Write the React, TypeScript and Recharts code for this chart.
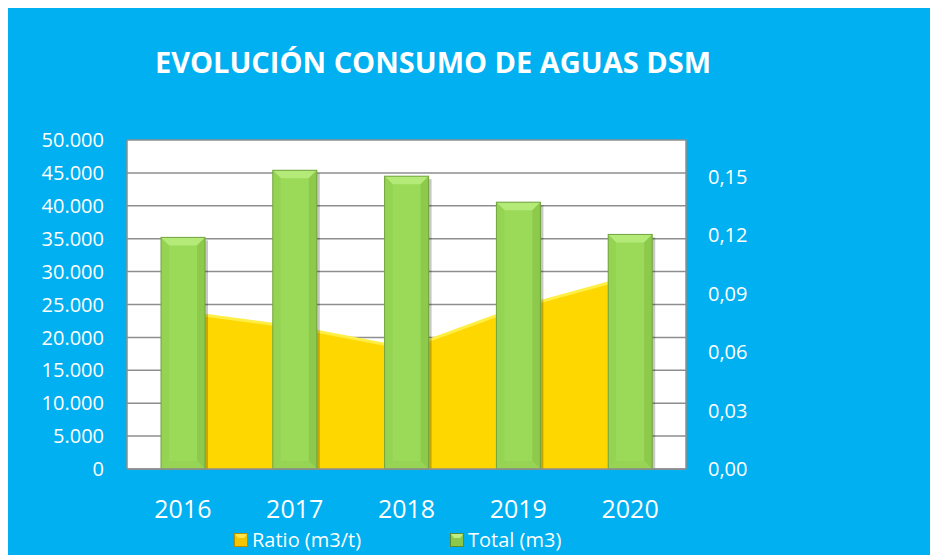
import React from 'react';
import { ComposedChart, Bar, Area, XAxis, YAxis, CartesianGrid, Legend } from 'recharts';

const YEARS = ['2016', '2017', '2018', '2019', '2020'];
const TOTAL_M3 = [35200, 45400, 44500, 40550, 35650];
const RATIO_M3_T = [0.0805, 0.0729, 0.0619, 0.0829, 0.0986];
const LEFT_TICKS = [0, 5000, 10000, 15000, 20000, 25000, 30000, 35000, 40000, 45000, 50000];
const RIGHT_TICKS = [0, 0.03, 0.06, 0.09, 0.12, 0.15];
const SERIES_NAMES = ['Ratio (m3/t)', 'Total (m3)'];

const data = YEARS.map((year, i) => ({ year, total: TOTAL_M3[i], ratio: RATIO_M3_T[i] }));

const BG = '#00B0F0';
const FONT = '"Open Sans", "Noto Sans", sans-serif';

const fmtThousands = (v: number) => (v === 0 ? '0' : v.toLocaleString('de-DE'));
const fmtRatio = (v: number) => v.toFixed(2).replace('.', ',');

// green column with a bevelled look, like the Excel preset
const BevelBar = (props: any) => {
  const { x, y, width: w, height: h } = props;
  if (!h || h <= 0) return null;
  const b = Math.min(8, w / 4, h / 2);
  return (
    <g>
      <rect x={x + 3} y={y + 3} width={w} height={h - 3} fill="rgba(0,0,0,0.22)" />
      <rect x={x} y={y} width={w} height={h} fill="#9BDA58" />
      <polygon points={`${x},${y} ${x + w},${y} ${x + w - b},${y + b} ${x + b},${y + b}`} fill="#B3EA78" />
      <polygon points={`${x},${y} ${x + b},${y + b} ${x + b},${y + h - b} ${x},${y + h}`} fill="#95D353" />
      <polygon points={`${x + w},${y} ${x + w},${y + h} ${x + w - b},${y + h - b} ${x + w - b},${y + b}`} fill="#8DC94B" />
      <polygon points={`${x},${y + h} ${x + b},${y + h - b} ${x + w - b},${y + h - b} ${x + w},${y + h}`} fill="#97D455" />
      <rect x={x} y={y} width={w} height={h} fill="none" stroke="#73A33F" strokeWidth={1} />
    </g>
  );
};

const LegendIcon = ({ face, light, dark }: { face: string; light: string; dark: string }) => (
  <svg width={14} height={14} style={{ display: 'block' }}>
    <rect x={0} y={0} width={14} height={14} fill={face} />
    <polygon points="0,0 14,0 10,5 4,5" fill={light} />
    <rect x={0.5} y={0.5} width={13} height={13} fill="none" stroke={dark} />
  </svg>
);

const renderLegend = () => (
  <div style={{ position: 'relative', height: 28, fontFamily: FONT, fontSize: 20, color: '#fff' }}>
    <div style={{ position: 'absolute', left: 227, top: 0, display: 'flex', alignItems: 'center', gap: 4 }}>
      <LegendIcon face="#F2C500" light="#FFE44D" dark="#B38F00" />
      <span>{SERIES_NAMES[0]}</span>
    </div>
    <div style={{ position: 'absolute', left: 443, top: 0, display: 'flex', alignItems: 'center', gap: 4 }}>
      <LegendIcon face="#8CC94A" light="#BDEE86" dark="#5E8A30" />
      <span>{SERIES_NAMES[1]}</span>
    </div>
  </div>
);

export default function App() {
  return (
    <div style={{ position: 'relative', width: 931, height: 550, marginLeft: -1, marginTop: -3, background: BG }}>
      <div
        style={{
          position: 'absolute',
          left: 0,
          top: 42,
          width: 852,
          textAlign: 'center',
          fontFamily: FONT,
          fontWeight: 700,
          fontSize: 29,
          lineHeight: '29px',
          color: '#fff',
        }}
      >
        EVOLUCIÓN CONSUMO DE AGUAS DSM
      </div>
      <ComposedChart
        width={931}
        height={550}
        data={data}
        margin={{ top: 135, right: 172, left: 0, bottom: 26 }}
        barCategoryGap={0}
      >
        <CartesianGrid vertical={false} fill="#fff" stroke="#8E8E8E" strokeWidth={1.5} yAxisId="left" />
        <XAxis
          dataKey="year"
          height={60}
          tickSize={0}
          tickMargin={31}
          axisLine={{ stroke: '#8E8E8E', strokeWidth: 1.5 }}
          tick={{ fill: '#fff', fontSize: 25, fontFamily: FONT }}
        />
        <YAxis
          yAxisId="left"
          width={120}
          domain={[0, 50000]}
          ticks={LEFT_TICKS}
          interval={0}
          tickFormatter={fmtThousands}
          tickSize={0}
          tickMargin={23}
          axisLine={{ stroke: '#8E8E8E', strokeWidth: 1.5 }}
          tick={{ fill: '#fff', fontSize: 20, fontFamily: FONT }}
        />
        <YAxis
          yAxisId="right"
          orientation="right"
          width={80}
          domain={[0, 0.169]}
          ticks={RIGHT_TICKS}
          interval={0}
          tickFormatter={fmtRatio}
          tickSize={0}
          tickMargin={22}
          axisLine={{ stroke: '#8E8E8E', strokeWidth: 1.5 }}
          tick={{ fill: '#fff', fontSize: 20, fontFamily: FONT }}
        />
        <Area
          yAxisId="right"
          type="linear"
          dataKey="ratio"
          name={SERIES_NAMES[0]}
          fill="#FFD700"
          fillOpacity={1}
          stroke="#FFEE45"
          strokeWidth={3}
          isAnimationActive={false}
        />
        <Bar
          yAxisId="left"
          dataKey="total"
          name={SERIES_NAMES[1]}
          barSize={44}
          shape={BevelBar}
          isAnimationActive={false}
        />
        <Legend
          layout="horizontal"
          verticalAlign="middle"
          align="center"
          content={renderLegend}
          wrapperStyle={{ top: 521, left: 0, width: 931 }}
        />
      </ComposedChart>
    </div>
  );
}
